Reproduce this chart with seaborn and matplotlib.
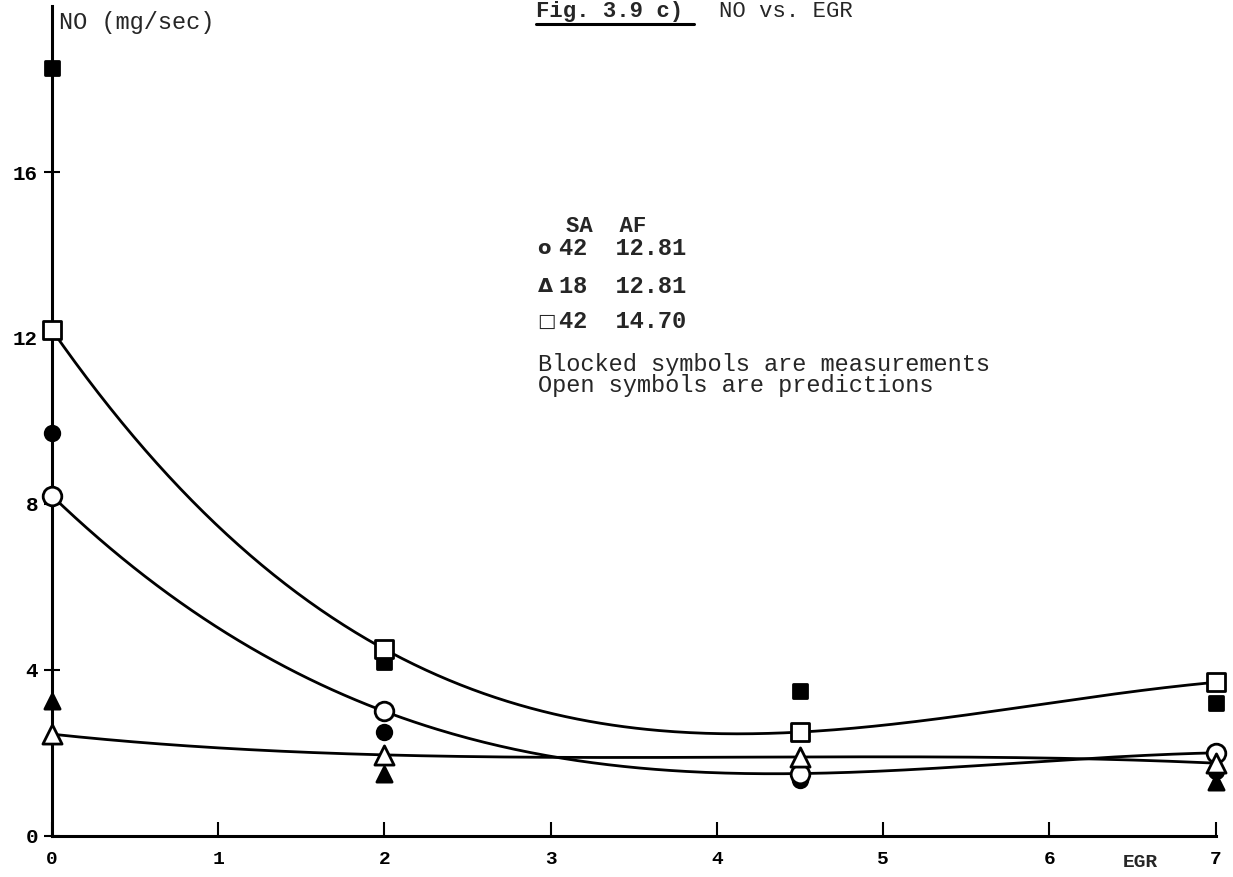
import numpy as np
import pandas as pd
import matplotlib
matplotlib.use("Agg")
import matplotlib.pyplot as plt
import seaborn as sns

# ---- data ----
egr = [0, 2, 4.5, 7]
pred_circle = [8.2, 3.0, 1.5, 2.0]      # SA 42, AF 12.81 (predictions)
pred_triangle = [2.45, 1.95, 1.9, 1.75]  # SA 18, AF 12.81
pred_square = [12.2, 4.5, 2.5, 3.7]      # SA 42, AF 14.70
meas_circle = [9.7, 2.5, 1.35, 1.55]     # measurements
meas_triangle = [3.25, 1.5, 1.7, 1.3]
meas_square = [18.5, 4.2, 3.5, 3.2]
x_ticks = [0, 1, 2, 3, 4, 5, 6, 7]
y_ticks = [0, 4, 8, 12, 16]

sns.set_theme(style="white")
plt.rcParams['font.family'] = ['Liberation Mono', 'DejaVu Sans Mono']

fig = plt.figure(figsize=(12.33, 8.77), dpi=100)
ax = fig.add_axes([0.042, 0.047, 0.944, 0.946])

# smooth curves through predictions (cubic through the four points)
xs = np.linspace(0, 7, 300)
for series in (pred_square, pred_circle, pred_triangle):
    coef = np.polyfit(egr, series, 3)
    sns.lineplot(x=xs, y=np.polyval(coef, xs), ax=ax, color="black",
                 lw=2.0, zorder=2)

def scat(vals, marker, filled, size):
    sns.scatterplot(x=egr, y=vals, ax=ax, marker=marker, s=size,
                    facecolor="black" if filled else "white",
                    edgecolor="black", linewidth=2.0, zorder=4,
                    clip_on=False)

scat(meas_square, "s", True, 110)
scat(meas_circle, "o", True, 110)
scat(meas_triangle, "^", True, 120)
scat(pred_square, "s", False, 170)
scat(pred_circle, "o", False, 180)
scat(pred_triangle, "^", False, 190)

ax.set_xlim(0, 7)
ax.set_ylim(0, 20)
for s in ("top", "right"):
    ax.spines[s].set_visible(False)
for s in ("left", "bottom"):
    ax.spines[s].set_color("black")
    ax.spines[s].set_linewidth(2.2)
ax.set_xticks(x_ticks)
ax.set_yticks(y_ticks)
ax.set_xticklabels([str(t) for t in x_ticks], fontweight="bold", fontsize=14)
ax.set_yticklabels([str(t) for t in y_ticks], fontweight="bold", fontsize=15)
ax.tick_params(axis="x", direction="in", length=10, width=1.5, pad=11, colors="black")
ax.tick_params(axis="y", direction="inout", length=12, width=1.5, pad=4, colors="black")
ax.tick_params(bottom=True, left=True)
ax.grid(False)

fig.text(0.048, 0.974, "NO (mg/sec)", fontsize=17, va="center", ha="left")
fig.text(0.925, 0.017, "EGR", fontsize=14, fontweight="bold", ha="center", va="center")

# title
fig.text(0.435, 0.987, "Fig. 3.9 c)", fontsize=16, fontweight="bold", ha="left", va="center")
fig.text(0.583, 0.987, "NO vs. EGR", fontsize=16, ha="left", va="center")
fig.add_artist(plt.Line2D([0.435, 0.563], [0.973, 0.973], color="black", lw=2.2))

# legend block
fig.text(0.459, 0.742, "SA  AF", fontsize=16, fontweight="bold", va="center")
rows = [("o", "42  12.81", 0.717), ("Δ", "18  12.81", 0.673), ("□", "42  14.70", 0.633)]
for sym, txt, yy in rows:
    fig.text(0.436, yy, sym, fontsize=14, fontweight="bold", va="center",
             family=['DejaVu Sans'])
    fig.text(0.453, yy, txt, fontsize=17, fontweight="bold", va="center")
fig.text(0.436, 0.584, "Blocked symbols are measurements", fontsize=17, va="center")
fig.text(0.436, 0.560, "Open symbols are predictions", fontsize=17, va="center")

fig.savefig("out.png", dpi=100, facecolor="white")
